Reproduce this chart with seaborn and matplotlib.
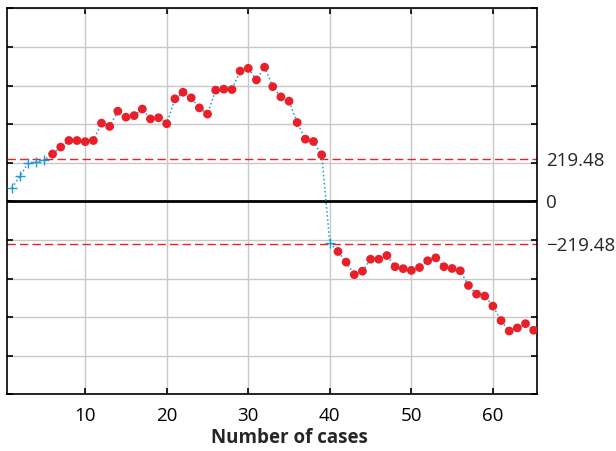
import matplotlib

matplotlib.use("Agg")
import matplotlib.pyplot as plt
import numpy as np
import pandas as pd
import seaborn as sns

# CUSUM values, one per case
cases = list(range(1, 66))
cusum = [
    69, 129, 198, 204, 215, 245, 281, 315, 315, 309,
    315, 405, 388, 467, 436, 444, 478, 427, 433, 402,
    531, 565, 536, 484, 452, 576, 581, 579, 675, 689,
    629, 695, 594, 541, 519, 408, 322, 310, 241, -215,
    -260, -315, -380, -362, -300, -300, -281, -339, -349, -358,
    -343, -308, -293, -339, -348, -360, -436, -481, -491, -543,
    -618, -672, -656, -634, -668,
]
LIMIT = 219.48
x_ticks = [10, 20, 30, 40, 50, 60]
y_grid = list(range(-1000, 1001, 200))
limit_ticks = [-LIMIT, 0, LIMIT]
limit_labels = ["\u2212219.48", "0", "219.48"]

BLUE = "#1b9ad6"
RED = "#e8202a"

df = pd.DataFrame({"case": cases, "cusum": cusum})
df["inside"] = df["cusum"].abs() <= LIMIT

sns.set_style("white")
plt.rcParams["font.family"] = ["Open Sans", "DejaVu Sans"]

fig = plt.figure(figsize=(6.16, 4.51), dpi=100)
ax = fig.add_axes([0.0119, 0.1257, 0.8604, 0.8559])

ax.set_xlim(0.45, 65.45)
ax.set_ylim(-1000, 1000)
ax.set_xticks(x_ticks)
ax.set_yticks(y_grid)
ax.grid(True, color="#c8c8c8", linewidth=1.0)
ax.set_axisbelow(True)

ax.axhline(0, color="black", linewidth=2.0, zorder=2)
for lv in (LIMIT, -LIMIT):
    ax.axhline(lv, color=RED, linewidth=1.0, linestyle=(0, (6, 3)), zorder=2)

sns.lineplot(data=df, x="case", y="cusum", ax=ax, color=BLUE,
             linestyle=":", linewidth=1.1, zorder=3)
sns.scatterplot(data=df[~df["inside"]], x="case", y="cusum", ax=ax,
                color=RED, s=40, edgecolor="none", zorder=4)
sns.scatterplot(data=df[df["inside"]], x="case", y="cusum", ax=ax,
                color=BLUE, marker="+", s=45, linewidth=1.0, zorder=4)

ax.tick_params(axis="both", direction="in", length=4, width=1.2,
               top=True, bottom=True, left=True, right=True,
               labelleft=False, labelsize=13.5, colors="black")
ax.tick_params(axis="x", pad=9)
for sp in ax.spines.values():
    sp.set_color("black")
    sp.set_linewidth(1.2)

sec = ax.secondary_yaxis("right")
sec.set_yticks(limit_ticks)
sec.set_yticklabels(limit_labels)
sec.tick_params(length=0, pad=6, labelsize=13.5)
sec.spines["right"].set_visible(False)

ax.set_xlabel("Number of cases", fontsize=13.5, fontweight="bold")
ax.xaxis.set_label_coords(0.532, -0.086)
ax.set_ylabel("")

fig.savefig("out.png", dpi=100)
